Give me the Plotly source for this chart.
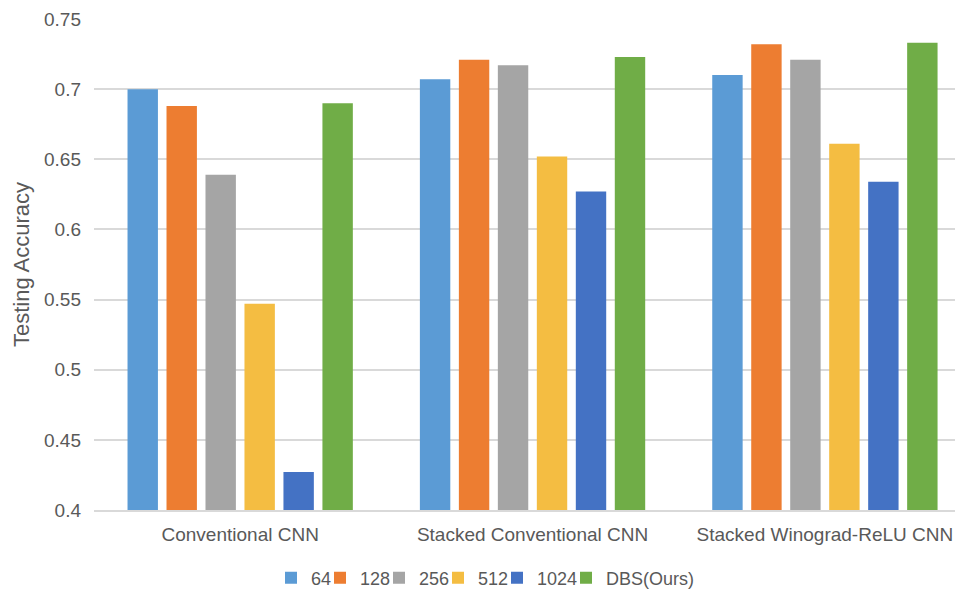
import plotly.graph_objects as go

# Model variants on the x axis
categories = ["Conventional CNN", "Stacked Conventional CNN", "Stacked Winograd-ReLU CNN"]

# Testing accuracy per batch size setting
acc_64 = [0.700, 0.707, 0.710]
acc_128 = [0.688, 0.721, 0.732]
acc_256 = [0.639, 0.717, 0.721]
acc_512 = [0.547, 0.652, 0.661]
acc_1024 = [0.427, 0.627, 0.634]
acc_dbs = [0.690, 0.723, 0.733]

series_names = ["64", "128", "256", "512", "1024", "DBS(Ours)"]
series_values = [acc_64, acc_128, acc_256, acc_512, acc_1024, acc_dbs]
series_colors = ["#5B9BD5", "#ED7D31", "#A5A5A5", "#F4BD42", "#4472C4", "#70AD47"]

y_ticks = [0.4, 0.45, 0.5, 0.55, 0.6, 0.65, 0.7, 0.75]
y_tick_text = ["0.4", "0.45", "0.5", "0.55", "0.6", "0.65", "0.7", "0.75"]

FONT = "Liberation Sans, Arial, Helvetica, sans-serif"
TEXT_COLOR = "#595959"
GRID_COLOR = "#D9D9D9"
W, H = 955, 590

# one compact legend box per series, laid out left to right along the bottom
legend_left_px = [271, 320, 379, 438, 497, 566]
legend_ids = ["legend"] + [f"legend{i}" for i in range(2, len(series_names) + 1)]

fig = go.Figure()
for name, vals, color, lid in zip(series_names, series_values, series_colors, legend_ids):
    fig.add_trace(go.Bar(
        name=name, x=categories, y=vals,
        marker=dict(color=color, line=dict(width=0)),
        legend=lid,
    ))

legend_layouts = {}
for lid, left in zip(legend_ids, legend_left_px):
    legend_layouts[lid] = dict(
        orientation="h", xref="container", yref="container",
        x=left / W, xanchor="left", y=1 - 578 / H, yanchor="middle",
        font=dict(size=18, color=TEXT_COLOR), itemwidth=30,
        bgcolor="rgba(0,0,0,0)", borderwidth=0,
    )

fig.update_layout(
    width=W, height=H,
    margin=dict(l=94, r=0, t=19, b=80, autoexpand=False),
    paper_bgcolor="white", plot_bgcolor="white",
    barmode="group", bargap=0.2, bargroupgap=0.22,
    font=dict(family=FONT, color=TEXT_COLOR, size=19),
    showlegend=True,
    **legend_layouts,
)
fig.update_xaxes(
    range=[-0.5, 2.445], showgrid=False, ticks="",
    showline=True, linecolor=GRID_COLOR, linewidth=1.5,
    tickfont=dict(size=19, color=TEXT_COLOR), ticklabelstandoff=6,
)
fig.update_yaxes(
    range=[0.4, 0.75], tickvals=y_ticks, ticktext=y_tick_text,
    showgrid=True, gridcolor=GRID_COLOR, gridwidth=1.5,
    zeroline=False, ticks="", ticklabelstandoff=12,
    tickfont=dict(size=19, color=TEXT_COLOR),
    title=dict(text="Testing Accuracy", font=dict(size=22, color=TEXT_COLOR), standoff=8),
)

fig.write_html("out.html")
